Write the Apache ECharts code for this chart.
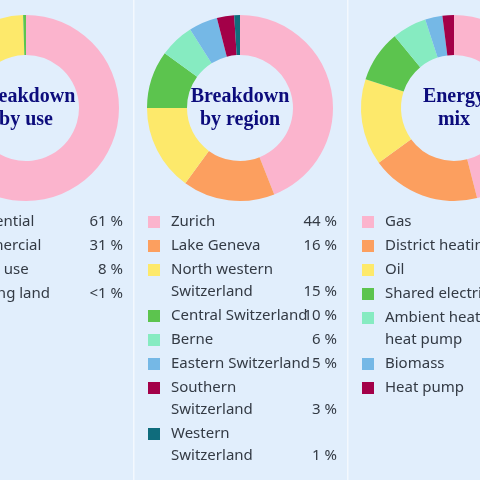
<!DOCTYPE html>
<html><head><meta charset="utf-8">
<script src="https://cdn.jsdelivr.net/npm/echarts@6/dist/echarts.min.js"></script>
<style>html,body{margin:0;padding:0;background:#e1eefc}#c{width:480px;height:480px}</style>
</head><body><div id="c"></div>
<script>
const useCats = ['Residential','Commercial','Mixed use','Building land'];
const useVals = [61,31,8,0.5];
const useLabels = ['61 %','31 %','8 %','<1 %'];
const useColors = ['#fbb4cd','#fc9f5f','#fde96b','#5cc44e'];

const regCats = ['Zurich','Lake Geneva','North western\nSwitzerland','Central Switzerland','Berne','Eastern Switzerland','Southern\nSwitzerland','Western\nSwitzerland'];
const regVals = [44,16,15,10,6,5,3,1];
const regColors = ['#fbb4cd','#fc9f5f','#fde96b','#5cc44e','#86ebc1','#75b8e6','#a30048','#0f6c7c'];

const mixCats = ['Gas','District heating','Oil','Shared electricity','Ambient heat from\nheat pump','Biomass','Heat pump'];
const mixVals = [46,19,15,9,6,3,2];
const mixColors = ['#fbb4cd','#fc9f5f','#fde96b','#5cc44e','#86ebc1','#75b8e6','#a30048'];

const panels = [
  {cx:26, title:'Breakdown\nby use', cats:useCats, vals:useVals, labels:useLabels, colors:useColors},
  {cx:240, title:'Breakdown\nby region', cats:regCats, vals:regVals, labels:regVals.map(v=>v+' %'), colors:regColors},
  {cx:454, title:'Energy\nmix', cats:mixCats, vals:mixVals, labels:mixVals.map(v=>v+' %'), colors:mixColors}
];
const chart = echarts.init(document.getElementById('c'));
const series = [], graphic = [];
graphic.push({type:'rect',shape:{x:133,y:0,width:1.5,height:480},style:{fill:'#f3f8fe'},z:0});
graphic.push({type:'rect',shape:{x:347,y:0,width:1.5,height:480},style:{fill:'#f3f8fe'},z:0});
panels.forEach(p=>{
  series.push({type:'pie',center:[p.cx,108],radius:[53,93],startAngle:90,clockwise:true,
    silent:true,label:{show:false},labelLine:{show:false},itemStyle:{borderWidth:0},
    data:p.vals.map((v,i)=>({value:v,name:p.cats[i],itemStyle:{color:p.colors[i]}}))});
  graphic.push({type:'text',x:p.cx,y:108,style:{text:p.title,align:'center',verticalAlign:'middle',
    font:'bold 20px "Liberation Serif", serif',fill:'#0c0c7c',lineHeight:23}});
  let y = 222;
  const lx = p.cx-92;
  p.cats.forEach((c,i)=>{
    const lines = c.split('\n').length;
    graphic.push({type:'rect',shape:{x:lx,y:y-6,width:12,height:12},style:{fill:p.colors[i]}});
    graphic.push({type:'text',x:lx+23,y:y,style:{text:c,verticalAlign:'middle',lineHeight:22,
      font:'15px "Noto Sans", sans-serif',fill:'#333a44'},});
    graphic.push({type:'text',x:p.cx+97,y:y+(lines-1)*22,style:{text:p.labels[i],align:'right',verticalAlign:'middle',
      font:'15px "Noto Sans", sans-serif',fill:'#333a44'}});
    y += 24 + (lines-1)*22;
  });
});
// fix multi-line text vertical anchor: lines start at y
graphic.forEach(g=>{ if(g.type==='text' && g.style.text.indexOf('\n')>=0 && g.style.lineHeight===22){ g.style.verticalAlign='top'; g.y -= 11; } });
chart.setOption({backgroundColor:'#e1eefc',animation:false,series,graphic});
</script></body></html>
